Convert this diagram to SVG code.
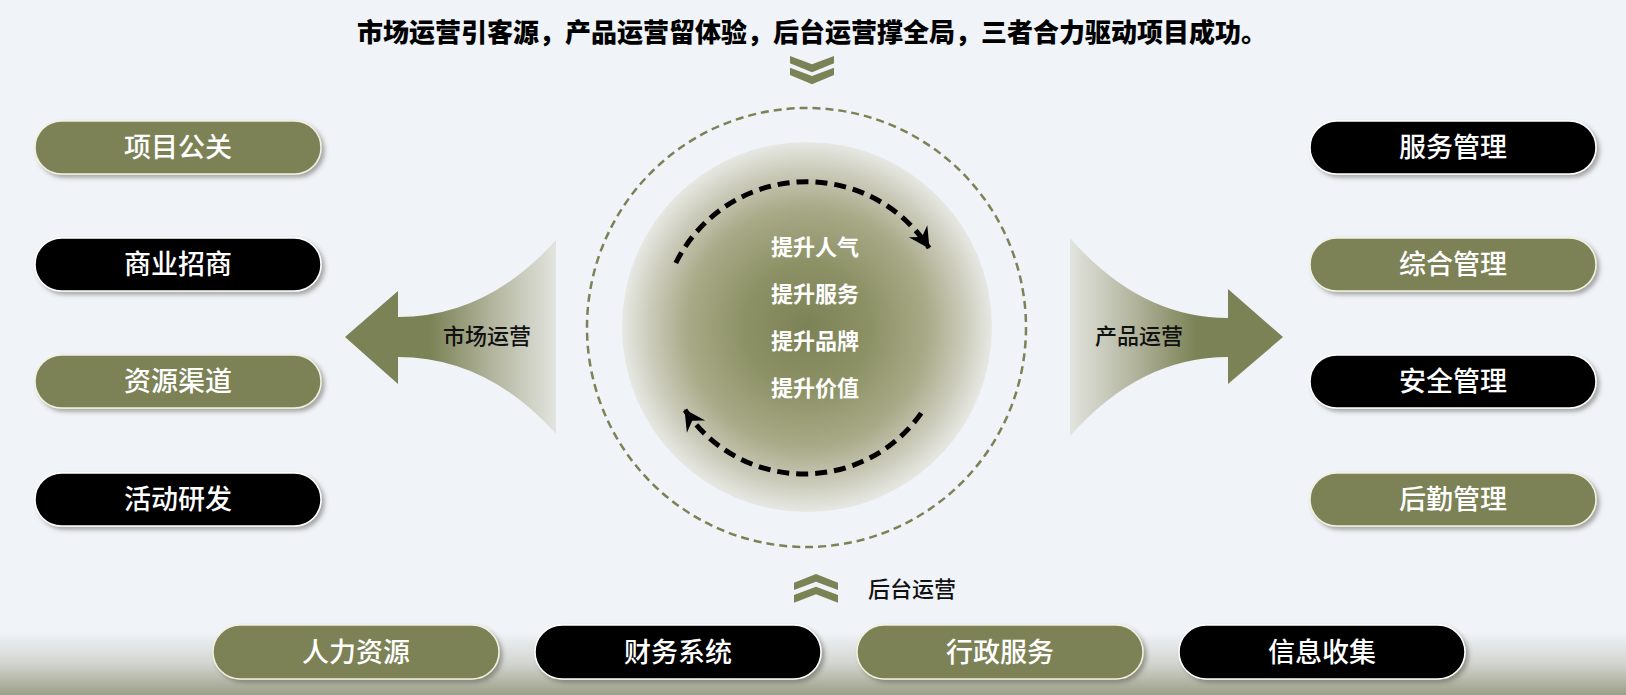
<svg xmlns="http://www.w3.org/2000/svg" width="1626" height="695" viewBox="0 0 1626 695">
<defs>
<style>
.pill-g{fill:#7b8255;stroke:#f3f1de;stroke-width:1.5;filter:url(#sh)}
.pill-b{fill:#000;stroke:#ffffff;stroke-width:1.5;filter:url(#sh)}
.pt{font-family:"Noto Sans CJK SC","Noto Sans",sans-serif;font-size:27px;font-weight:500;fill:#fff;text-anchor:middle}
.lab{font-family:"Noto Sans CJK SC","Noto Sans",sans-serif;font-size:22px;font-weight:500;fill:#111;text-anchor:middle}
.inner{font-family:"Noto Sans CJK SC","Noto Sans",sans-serif;font-size:22px;font-weight:700;fill:#fff;text-anchor:middle}
.chev{fill:#7b8255}
.arc{fill:none;stroke:#000;stroke-width:5;stroke-dasharray:12 7}
</style>
<filter id="sh" x="-10%" y="-20%" width="125%" height="150%">
<feDropShadow dx="3" dy="3" stdDeviation="2" flood-color="#4a4a40" flood-opacity="0.45"/>
</filter>
<linearGradient id="bottomG" x1="0" y1="632" x2="0" y2="695" gradientUnits="userSpaceOnUse">
<stop offset="0" stop-color="#f0f3f8"/>
<stop offset="0.5" stop-color="#d2d5cf"/>
<stop offset="1" stop-color="#9c9f87"/>
</linearGradient>
<linearGradient id="lgL" x1="398" y1="0" x2="556" y2="0" gradientUnits="userSpaceOnUse">
<stop offset="0" stop-color="#7b8255"/>
<stop offset="0.2" stop-color="#7b8255"/>
<stop offset="0.6" stop-color="#b3b59e"/>
<stop offset="1" stop-color="#e2e4df"/>
</linearGradient>
<linearGradient id="lgR" x1="1228" y1="0" x2="1070" y2="0" gradientUnits="userSpaceOnUse">
<stop offset="0" stop-color="#7b8255"/>
<stop offset="0.2" stop-color="#7b8255"/>
<stop offset="0.6" stop-color="#b3b59e"/>
<stop offset="1" stop-color="#e2e4df"/>
</linearGradient>
<radialGradient id="rg" cx="807" cy="327" r="185" gradientUnits="userSpaceOnUse">
<stop offset="0" stop-color="#7b8255"/>
<stop offset="0.35" stop-color="#8d9266"/>
<stop offset="0.65" stop-color="#a9aa88"/>
<stop offset="0.85" stop-color="#cbcbbb"/>
<stop offset="1" stop-color="#e7e8e3"/>
</radialGradient>
<marker id="ah" markerUnits="userSpaceOnUse" markerWidth="24" markerHeight="24" viewBox="0 0 24 24" refX="21" refY="12" orient="auto">
<path d="M1,1 L22,12 L1,23 L8,12 Z" fill="#000"/>
</marker>
</defs>
<rect x="0" y="0" width="1626" height="695" fill="#f0f3f8"/>
<rect x="0" y="632" width="1626" height="63" fill="url(#bottomG)"/>

<text x="812" y="42" font-family="'Noto Sans CJK SC','Noto Sans',sans-serif" font-size="26" font-weight="900" fill="#000" text-anchor="middle">市场运营引客源，产品运营留体验，后台运营撑全局，三者合力驱动项目成功。</text>

<g id="chevron-top">
<polygon class="chev" points="790,56 812,64.3 834,56 834,63.3 812,72.3 790,63.3"/>
<polygon class="chev" points="790,67.7 812,76 834,67.7 834,75 812,84.3 790,75"/>
</g>

<g id="center">
<circle cx="806.5" cy="327.5" r="219.5" fill="none" stroke="#7b8255" stroke-width="2.5" stroke-dasharray="8 5"/>
<circle cx="807" cy="327" r="185" fill="url(#rg)"/>
<text class="inner" x="815" y="255">提升人气</text>
<text class="inner" x="815" y="302">提升服务</text>
<text class="inner" x="815" y="349">提升品牌</text>
<text class="inner" x="815" y="396">提升价值</text>
</g>

<g id="connectors">
<path class="arc" d="M675.8,263 A146,146 0 0 1 929,248" marker-end="url(#ah)"/>
<path class="arc" d="M921.2,413.1 A143,143 0 0 1 685,410" marker-end="url(#ah)"/>
<g id="arrow-left">
<path d="M556,240 Q487,317 398,317 L398,291 L345,337 L398,384 L398,357 Q487,357 556,434 Z" fill="url(#lgL)"/>
<text class="lab" x="487" y="344">市场运营</text>
</g>
<g id="arrow-right">
<path d="M1070,238 Q1140,318 1228,318 L1228,289 L1283,337 L1228,384 L1228,357 Q1140,357 1070,436 Z" fill="url(#lgR)"/>
<text class="lab" x="1139" y="344">产品运营</text>
</g>
<g id="chevron-bottom">
<polygon class="chev" points="794,582.7 816,574 838,582.7 838,590 816,581.7 794,590"/>
<polygon class="chev" points="794,595 816,586.7 838,595 838,602.7 816,594.3 794,602.7"/>
<text class="lab" x="912" y="597">后台运营</text>
</g>
</g>

<g id="node-xmgg"><rect class="pill-g" x="35" y="121" width="286" height="53" rx="26.5"/><text class="pt" x="178" y="157">项目公关</text></g>
<g id="node-syzs"><rect class="pill-b" x="35" y="238" width="286" height="53" rx="26.5"/><text class="pt" x="178" y="274">商业招商</text></g>
<g id="node-zyqd"><rect class="pill-g" x="35" y="355" width="286" height="53" rx="26.5"/><text class="pt" x="178" y="391">资源渠道</text></g>
<g id="node-hdyf"><rect class="pill-b" x="35" y="473" width="286" height="53" rx="26.5"/><text class="pt" x="178" y="509">活动研发</text></g>

<g id="node-fwgl"><rect class="pill-b" x="1310" y="121" width="286" height="53" rx="26.5"/><text class="pt" x="1453" y="157">服务管理</text></g>
<g id="node-zhgl"><rect class="pill-g" x="1310" y="238" width="286" height="53" rx="26.5"/><text class="pt" x="1453" y="274">综合管理</text></g>
<g id="node-aqgl"><rect class="pill-b" x="1310" y="355" width="286" height="53" rx="26.5"/><text class="pt" x="1453" y="391">安全管理</text></g>
<g id="node-hqgl"><rect class="pill-g" x="1310" y="473" width="286" height="53" rx="26.5"/><text class="pt" x="1453" y="509">后勤管理</text></g>

<g id="node-rlzy"><rect class="pill-g" x="213" y="625" width="286" height="54" rx="27"/><text class="pt" x="356" y="662">人力资源</text></g>
<g id="node-cwxt"><rect class="pill-b" x="535" y="625" width="286" height="54" rx="27"/><text class="pt" x="678" y="662">财务系统</text></g>
<g id="node-xzfw"><rect class="pill-g" x="857" y="625" width="286" height="54" rx="27"/><text class="pt" x="1000" y="662">行政服务</text></g>
<g id="node-xxsj"><rect class="pill-b" x="1179" y="625" width="286" height="54" rx="27"/><text class="pt" x="1322" y="662">信息收集</text></g>
</svg>
